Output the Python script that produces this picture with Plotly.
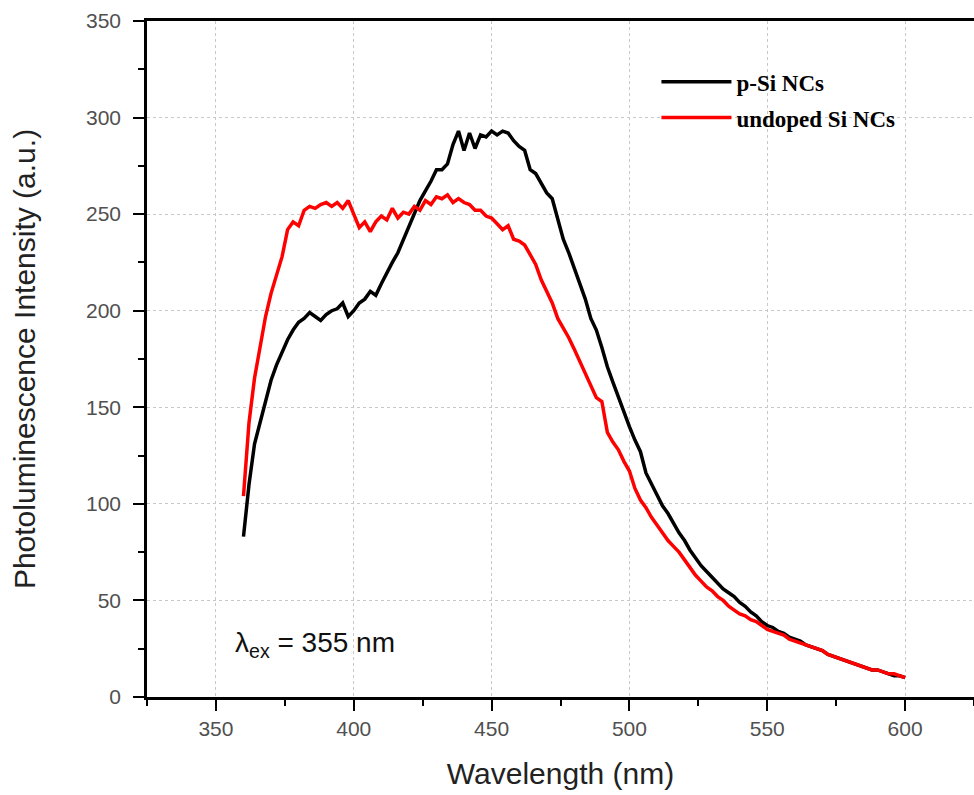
import plotly.graph_objects as go

wavelength = list(range(360, 601, 2))

psi_ncs = [
    83, 110, 131, 142, 154, 164, 172, 179, 185, 190,
    194, 196, 199, 197, 195, 198, 200, 201, 204, 197,
    200, 204, 206, 210, 208, 214, 220, 225, 230, 237,
    243, 250, 257, 262, 267, 273, 273, 276, 286, 293,
    283, 292, 284, 291, 290, 293, 291, 293, 292, 288,
    285, 283, 273, 271, 266, 261, 258, 247, 237, 230,
    222, 214, 206, 196, 190, 181, 171, 163, 155, 147,
    140, 133, 127, 116, 110, 104, 99, 95, 90, 85,
    81, 76, 72, 68, 65, 62, 59, 56, 54, 52,
    49, 47, 44, 42, 39, 37, 36, 34, 33, 31,
    30, 29, 27, 26, 25, 24, 22, 21, 20, 19,
    18, 17, 16, 15, 14, 14, 13, 12, 11, 11,
    10,
]

undoped_si_ncs = [
    104, 142, 165, 180, 197, 209, 218, 228, 242, 246,
    244, 252, 254, 253, 255, 256, 254, 256, 253, 257,
    250, 243, 246, 241, 246, 249, 247, 253, 248, 251,
    250, 254, 252, 257, 255, 259, 258, 260, 256, 258,
    256, 255, 252, 252, 249, 248, 245, 242, 244, 237,
    236, 234, 229, 224, 216, 210, 204, 196, 191, 186,
    180, 174, 168, 162, 155, 153, 137, 132, 128, 122,
    117, 108, 102, 98, 93, 89, 85, 81, 78, 75,
    71, 67, 63, 60, 57, 55, 52, 50, 47, 45,
    43, 42, 40, 39, 37, 35, 34, 33, 32, 30,
    29, 28, 27, 26, 25, 24, 22, 21, 20, 19,
    18, 17, 16, 15, 14, 14, 13, 12, 12, 11,
    10,
]

x_ticks = [350, 400, 450, 500, 550, 600]
y_ticks = [0, 50, 100, 150, 200, 250, 300, 350]

sans = "Liberation Sans, Arial, sans-serif"
serif = "Liberation Serif, Times New Roman, serif"

fig = go.Figure()
fig.add_trace(go.Scatter(
    x=wavelength, y=psi_ncs, mode="lines", name="<b>p-Si NCs</b>",
    line=dict(color="#000000", width=3.5), legendgroup="a",
))
fig.add_trace(go.Scatter(
    x=wavelength, y=undoped_si_ncs, mode="lines", name="<b>undoped Si NCs</b>",
    line=dict(color="#ff0000", width=3.5), legendgroup="b",
))

fig.add_annotation(
    x=356.2, y=27, xref="x", yref="y", xanchor="left", yanchor="middle",
    text="λ<sub>ex</sub> = 355 nm",
    showarrow=False, font=dict(family=sans, size=28, color="#111111"),
)

axis_common = dict(
    showline=True, linecolor="#000000", linewidth=2.5,
    ticks="outside", ticklen=11, tickwidth=2, tickcolor="#000000",
    showgrid=True, gridcolor="#c8c8c8", griddash="dot", gridwidth=1,
    tickfont=dict(family=sans, size=21, color="#505050"),
    zeroline=False,
)

fig.update_layout(
    width=974, height=795,
    margin=dict(l=147, r=0, t=21, b=98),
    paper_bgcolor="white", plot_bgcolor="white",
    showlegend=True,
    legend=dict(
        x=0.616, y=0.942, xanchor="left", yanchor="top",
        font=dict(family=serif, size=23, color="#000000"),
        bgcolor="rgba(0,0,0,0)", tracegroupgap=3, itemwidth=70,
    ),
    xaxis=dict(
        range=[325, 625], tickvals=x_ticks, mirror=True,
        ticklabelstandoff=0,
        minor=dict(dtick=25, ticks="outside", ticklen=6, tickwidth=2, tickcolor="#000000", showgrid=False),
        title=dict(text="Wavelength (nm)", font=dict(family=sans, size=30, color="#222222"), standoff=25),
        **axis_common,
    ),
    yaxis=dict(
        range=[0, 350], tickvals=y_ticks, mirror=False,
        ticklabelstandoff=8,
        minor=dict(dtick=25, ticks="outside", ticklen=6, tickwidth=2, tickcolor="#000000", showgrid=False),
        title=dict(text="Photoluminescence Intensity (a.u.)", font=dict(family=sans, size=30, color="#222222"), standoff=42),
        **axis_common,
    ),
)

fig.write_html("out.html")
